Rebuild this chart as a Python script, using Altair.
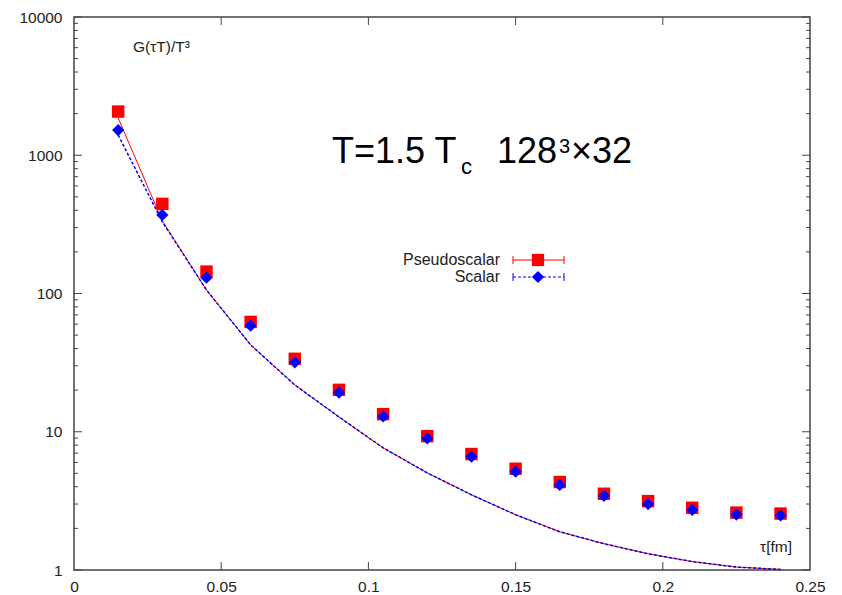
import altair as alt
import pandas as pd

# ---- data ----
tau = [0.015, 0.03, 0.045, 0.06, 0.075, 0.09, 0.105, 0.12,
       0.135, 0.15, 0.165, 0.18, 0.195, 0.21, 0.225, 0.24]
pseudo = [2070, 445, 144, 62.3, 33.7, 20.1, 13.4, 9.3,
          6.9, 5.4, 4.33, 3.56, 3.15, 2.82, 2.60, 2.56]
scalar = [1520, 370, 130, 58.5, 31.8, 19.2, 12.9, 8.95,
          6.6, 5.15, 4.12, 3.44, 3.0, 2.72, 2.52, 2.48]
free_pseudo = [1860, 335, 106, 42.5, 21.8, 12.8, 7.65, 5.04,
               3.50, 2.51, 1.89, 1.55, 1.31, 1.15, 1.05, 1.01]
free_scalar = [1400, 330, 106, 42.5, 21.8, 12.8, 7.65, 5.04,
               3.50, 2.51, 1.89, 1.55, 1.31, 1.15, 1.05, 1.01]

y_major = [1, 10, 100, 1000, 10000]
y_minor = [k * d for d in [1, 10, 100, 1000] for k in range(2, 10)]
x_major = [0.05, 0.1, 0.15, 0.2]
x_labels = [0, 0.05, 0.1, 0.15, 0.2, 0.25]

series_names = ["Pseudoscalar", "Scalar"]
series_colors = ["#ff0000", "#0000ff"]

W, H = 736, 553
FONT = "Liberation Sans"
FRAME = "#444444"

df = pd.DataFrame({"tau": tau, "pseudo": pseudo, "scalar": scalar,
                   "free_pseudo": free_pseudo, "free_scalar": free_scalar})
ymaj = pd.DataFrame({"v": y_major})
ymin = pd.DataFrame({"v": y_minor})
xmaj = pd.DataFrame({"v": x_major})
one = pd.DataFrame({"k": [0]})

xs = alt.Scale(domain=[0, 0.25], nice=False, zero=False)
ys = alt.Scale(type="log", domain=[1, 10000], nice=False)

xaxis = alt.Axis(values=x_labels, format="~g", ticks=False, domain=False,
                 grid=False, labelPadding=9, labelFontSize=15.5, labelFlush=False,
                 labelFont=FONT, labelColor="#222222", title=None)
yaxis = alt.Axis(values=y_major, format="d", ticks=False, domain=False,
                 grid=False, labelPadding=12, labelFontSize=15.5, labelFlush=False,
                 labelFont=FONT, labelColor="#222222", title=None)


def X(f):
    return alt.X(f, type="quantitative", scale=xs, axis=xaxis)


def Y(f):
    return alt.Y(f, type="quantitative", scale=ys, axis=yaxis)


layers = []
# y ticks (inward, left and right)
for data, ln in [(ymaj, 8), (ymin, 4)]:
    layers.append(alt.Chart(data).mark_rule(color=FRAME, strokeWidth=1).encode(
        y=Y("v"), x=alt.value(0), x2=alt.value(ln)))
    layers.append(alt.Chart(data).mark_rule(color=FRAME, strokeWidth=1).encode(
        y=Y("v"), x=alt.value(W), x2=alt.value(W - ln)))
# x ticks (inward, bottom and top)
layers.append(alt.Chart(xmaj).mark_rule(color=FRAME, strokeWidth=1).encode(
    x=X("v"), y=alt.value(H), y2=alt.value(H - 8)))
layers.append(alt.Chart(xmaj).mark_rule(color=FRAME, strokeWidth=1).encode(
    x=X("v"), y=alt.value(0), y2=alt.value(8)))

# lines
layers.append(alt.Chart(df).mark_line(color=series_colors[0], strokeWidth=1).encode(
    x=X("tau"), y=Y("free_pseudo")))
layers.append(alt.Chart(df).mark_line(color=series_colors[1], strokeWidth=1.5,
                                      strokeDash=[3, 2]).encode(
    x=X("tau"), y=Y("free_scalar")))
# points
layers.append(alt.Chart(df).mark_point(shape="square", filled=True, size=155,
                                       color=series_colors[0], opacity=1).encode(
    x=X("tau"), y=Y("pseudo")))
layers.append(alt.Chart(df).mark_point(shape="diamond", filled=True, size=150,
                                       color=series_colors[1], opacity=1).encode(
    x=X("tau"), y=Y("scalar")))


def txt(s, x, y, size, align="left", baseline="alphabetic", color="#000000"):
    return alt.Chart(one).mark_text(text=s, font=FONT, fontSize=size, align=align,
                                    baseline=baseline, color=color).encode(
        x=alt.value(x), y=alt.value(y))


# annotations
layers.append(txt("T=1.5 T", 258, 146, 36))
layers.append(txt("c", 387, 157, 22))
layers.append(txt("128", 423, 146, 36))
layers.append(txt("3", 485, 136, 20))
layers.append(txt("×32", 497, 146, 36))
layers.append(txt("G(τT)/T³", 59, 30, 15.5, baseline="middle", color="#222222"))
layers.append(txt("τ[fm]", 718, 530, 15.5, align="right", baseline="middle",
                  color="#222222"))

# legend
leg_y = [243, 260]
leg_shapes = ["square", "diamond"]
leg_dash = [[1, 0], [3, 2]]
for i in range(2):
    yy = leg_y[i]
    c = series_colors[i]
    layers.append(txt(series_names[i], 426, yy, 16, align="right", baseline="middle",
                      color="#222222"))
    layers.append(alt.Chart(one).mark_rule(color=c, strokeWidth=1,
                                           strokeDash=leg_dash[i]).encode(
        x=alt.value(439), x2=alt.value(490), y=alt.value(yy)))
    for xc in [439, 490]:
        layers.append(alt.Chart(one).mark_rule(color=c, strokeWidth=1).encode(
            x=alt.value(xc), y=alt.value(yy - 4), y2=alt.value(yy + 4)))
    layers.append(alt.Chart(one).mark_point(shape=leg_shapes[i], filled=True,
                                            size=150, color=c, opacity=1).encode(
        x=alt.value(464), y=alt.value(yy)))

chart = alt.layer(*layers).properties(
    width=W, height=H,
    padding={"left": 74, "top": 17, "right": 32, "bottom": 25},
    autosize=alt.AutoSizeParams(type="none"),
    background="white",
).configure_view(stroke=FRAME, strokeWidth=1.5)

chart.save("out.html", embed_options={"renderer": "svg", "actions": False})
